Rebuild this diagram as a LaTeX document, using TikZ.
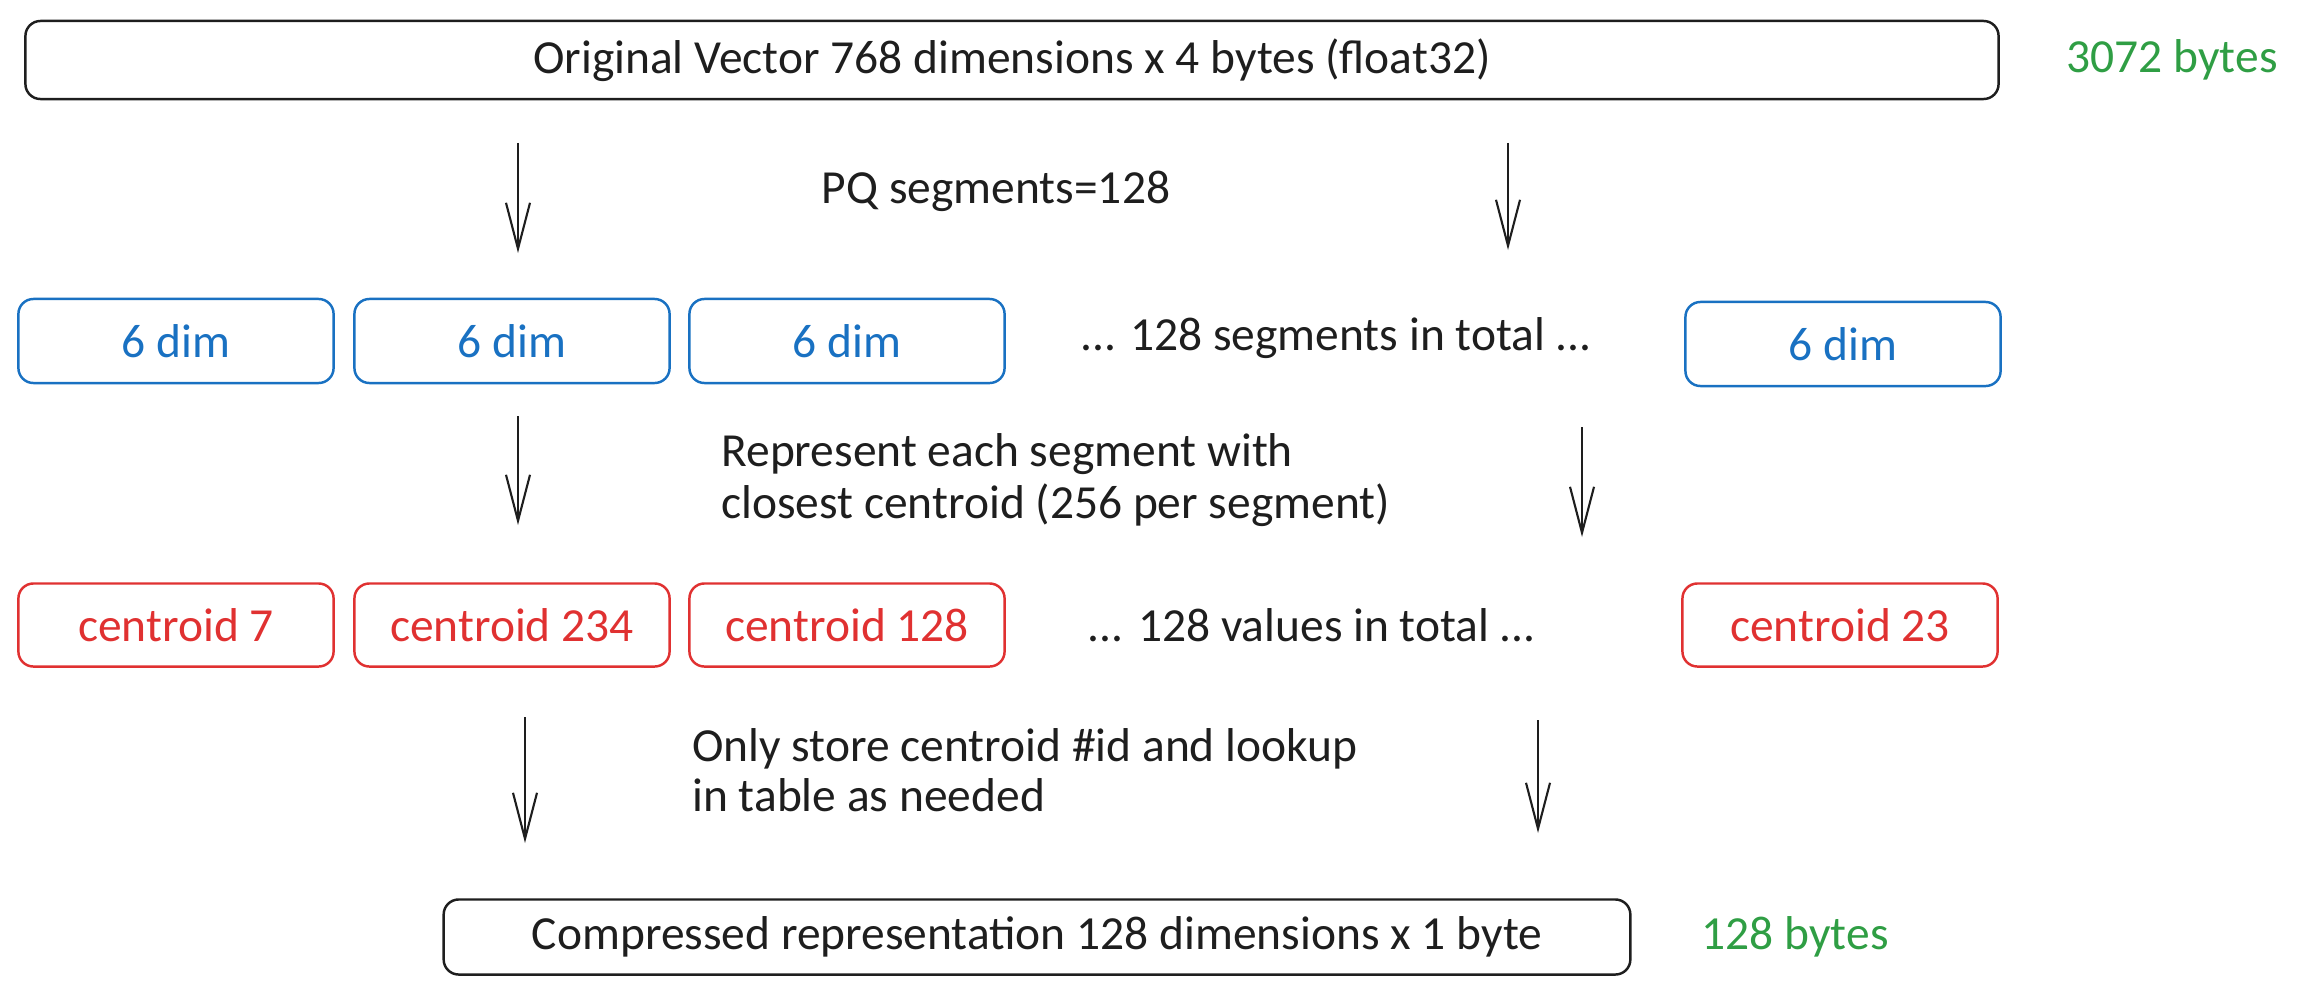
\documentclass[tikz,border=0pt]{standalone}
\usepackage{fontspec}
\setmainfont{Carlito}
\usetikzlibrary{arrows.meta}
\definecolor{inkblack}{HTML}{1E1E1E}
\definecolor{inkblue}{HTML}{1971C2}
\definecolor{inkred}{HTML}{E03131}
\definecolor{inkgreen}{HTML}{2F9E44}
\begin{document}
\begin{tikzpicture}
[x=0.01cm,y=-0.01cm,
  every node/.style={font=\fontsize{13.5}{15}\selectfont,text=inkblack},%
  boxdecorate/.style={shape=rectangle,draw=inkblack,line width=0.7pt,rounded corners=0.15cm,inner sep=0pt},%
  dimdecorate/.style={boxdecorate,draw=inkblue,text=inkblue,minimum width=3.15cm,minimum height=0.84cm},%
  centdecorate/.style={boxdecorate,draw=inkred,text=inkred,minimum width=3.15cm,minimum height=0.83cm},%
  sizedecorate/.style={text=inkgreen},%
  arrowdecorate/.style={-{Straight Barb[length=0.46cm,width=0.24cm]},line width=0.6pt,draw=inkblack}]
\useasboundingbox (0,0) rectangle (2307,997);
%% whole vector and compressed vector
\node (orig) at (1012,60) [boxdecorate,minimum width=19.72cm,minimum height=0.78cm]
  {Original Vector 768 dimensions x 4 bytes (float32)};
\node (origsize) at (2172,60) [sizedecorate] {3072 bytes};
\node (comp) at (1037,937) [boxdecorate,minimum width=11.86cm,minimum height=0.75cm]
  {Compressed representation 128 dimensions x 1 byte};
\node (compsize) at (1795,937) [sizedecorate] {128 bytes};
%% segments and centroids
\foreach \nodename/\x/\y in {dimA/176/341, dimB/512/341, dimC/847/341, dimD/1843/344}
{
  \node (\nodename) at (\x,\y) [dimdecorate] {6 dim};
}
\foreach \nodename/\x/\y/\cid in {centA/176/625/7, centB/512/625/234, centC/847/625/128, centD/1840/625/23}
{
  \node (\nodename) at (\x,\y) [centdecorate] {centroid \cid};
}
%% notes
\node (pqnote) at (996,191) {PQ segments=128};
\node (segnote) at (1336,338) {... 128 segments in total ...};
\node (valnote) at (1312,625) {... 128 values in total ...};
\node (repnote) at (709,480) [anchor=west,align=left]
  {Represent each segment with\\closest centroid (256 per segment)};
\node (storenote) at (680,770) [anchor=west,align=left,font=\fontsize{13.5}{14.2}\selectfont]
  {Only store centroid \#id and lookup\\in table as needed};
%% arrows
\foreach \i/\sx/\sy/\ex/\ey in {
  1/518/143/518/253, 2/1508/143/1508/250, 3/518/416/518/525,
  4/1582/427/1582/537, 5/525/717/525/843, 6/1538/720/1538/833}
{
  \coordinate (s\i) at (\sx,\sy);
  \coordinate (e\i) at (\ex,\ey);
  \draw[arrowdecorate] (s\i) -- (e\i);
}
\end{tikzpicture}
\end{document}
